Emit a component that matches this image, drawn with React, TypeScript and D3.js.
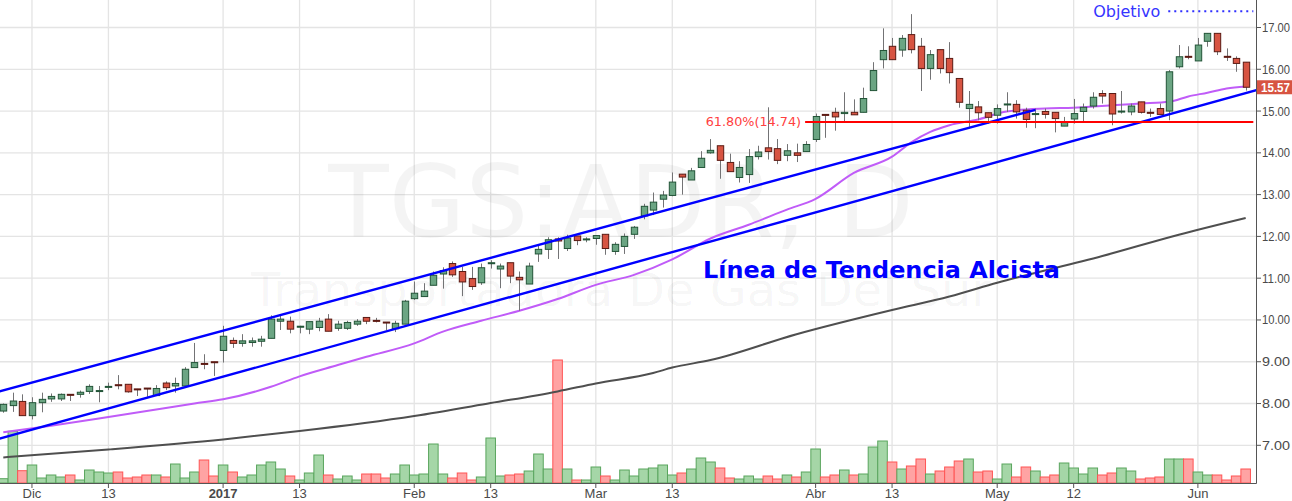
import React from 'react';
import * as d3 from 'd3';

const W = 1292;
const H = 501;
const PLOT_RIGHT = 1256;
const PLOT_BOTTOM = 483;

const opens = [7.82,7.95,8.05,7.71,8.02,8.11,8.11,8.22,8.22,8.29,8.30,8.39,8.45,8.46,8.35,8.37,8.19,8.49,8.42,8.42,
  8.86,8.96,9.00,9.27,9.51,9.44,9.46,9.49,9.56,9.97,9.97,9.85,9.78,9.82,10.02,9.80,9.80,9.90,10.06,9.99,
  9.95,9.79,9.90,10.51,10.56,10.83,11.10,11.35,11.16,10.99,10.89,11.37,11.22,11.37,11.02,10.86,11.58,11.69,11.94,11.71,
  12.01,11.93,11.95,12.05,11.64,11.76,12.05,12.49,12.63,12.89,12.98,13.49,13.35,13.65,14.00,14.17,13.77,13.41,13.48,13.91,
  14.12,14.10,13.94,14.00,14.03,14.32,14.92,14.97,14.94,14.97,14.97,15.49,16.23,16.55,16.46,16.83,16.55,16.02,16.47,16.26,
  15.78,15.06,15.10,14.96,14.90,15.16,15.16,15.02,14.93,14.99,14.97,14.64,14.81,14.99,15.12,15.42,15.42,14.98,14.98,15.22,
  14.97,15.06,15.00,16.06,16.31,16.20,16.67,16.86,16.31,16.26,16.17];
const highs = [8.00,8.26,8.22,8.15,8.26,8.24,8.24,8.22,8.31,8.46,8.42,8.50,8.68,8.46,8.35,8.37,8.44,8.53,8.62,8.87,
  9.45,9.18,9.00,9.86,9.58,9.66,9.58,9.62,10.11,10.11,10.08,9.86,9.96,10.05,10.14,9.98,9.98,10.02,10.06,10.05,
  9.95,9.98,10.48,10.92,10.88,11.16,11.26,11.40,11.27,11.27,11.35,11.43,11.35,11.37,11.16,11.37,11.79,11.98,11.98,12.04,
  12.01,11.98,12.02,12.05,11.86,12.07,12.25,12.78,13.05,13.09,13.53,13.49,13.64,14.04,14.33,14.17,13.98,13.80,14.09,14.17,
  15.09,14.33,14.21,14.22,14.28,14.94,14.92,15.08,15.45,15.28,15.56,16.17,16.98,16.75,16.82,17.32,16.75,16.46,16.47,16.65,
  15.78,15.48,15.24,14.96,15.16,15.45,15.26,15.08,15.06,15.06,14.97,14.86,15.29,15.18,15.45,15.50,15.42,15.48,15.18,15.22,
  15.06,15.18,15.98,16.58,16.55,16.75,16.86,16.86,16.50,16.31,16.17];
const lows = [7.78,7.80,7.71,7.62,7.79,8.04,8.06,8.06,8.14,8.23,8.03,8.32,8.34,8.26,8.18,8.16,8.19,8.32,8.26,8.42,
  8.86,8.82,8.66,8.98,9.33,9.36,9.36,9.36,9.56,9.76,9.68,9.68,9.66,9.73,9.73,9.74,9.76,9.86,9.90,9.94,
  9.76,9.71,9.90,10.48,10.56,10.83,10.75,11.03,10.57,10.72,10.84,11.23,10.76,10.88,10.22,10.86,11.39,11.46,11.46,11.65,
  11.79,11.86,11.80,11.56,11.56,11.58,11.94,12.41,12.51,12.69,12.96,13.00,13.35,13.65,13.98,13.38,13.55,13.29,13.28,13.84,
  13.84,13.73,13.80,13.78,14.03,14.26,14.36,14.53,14.73,14.91,14.97,15.49,16.02,16.23,16.30,16.38,15.48,15.75,15.90,15.66,
  15.08,14.62,14.78,14.70,14.70,14.98,14.82,14.60,14.59,14.82,14.49,14.64,14.70,14.76,15.06,15.18,14.66,14.94,14.90,14.94,
  14.86,14.92,14.78,16.02,16.24,16.20,16.54,16.34,16.20,15.94,15.49];
const closes = [7.98,8.06,7.71,8.02,8.10,8.17,8.22,8.21,8.27,8.41,8.31,8.41,8.43,8.28,8.33,8.36,8.36,8.38,8.48,8.82,
  8.98,8.95,8.99,9.61,9.44,9.50,9.50,9.54,10.02,10.02,9.78,9.85,9.96,9.97,9.73,9.90,9.94,9.97,9.97,9.98,
  9.94,9.92,10.45,10.64,10.69,11.07,11.18,11.08,10.91,10.80,11.25,11.37,11.29,11.05,10.96,11.29,11.69,11.92,11.89,11.96,
  11.90,11.94,12.02,11.71,11.81,12.00,12.22,12.72,12.82,12.99,13.30,13.42,13.57,13.87,14.06,13.82,13.55,13.65,13.91,14.02,
  14.03,13.82,14.05,13.94,14.20,14.87,14.90,14.86,14.97,14.91,15.30,15.97,16.45,16.23,16.74,16.47,16.02,16.35,16.02,15.92,
  15.21,15.16,14.96,14.85,15.06,15.17,14.98,14.80,14.94,14.92,14.82,14.73,14.94,15.09,15.33,15.36,14.93,15.00,15.12,14.97,
  14.96,14.92,15.94,16.30,16.30,16.58,16.86,16.42,16.30,16.14,15.57];
const volumes = [4.3,51.7,12.3,18,5,8,6,8,3,13,11,10,11,5,6,8,8,6,19,5,
  11,23,7,18,11,6,8,18,21,14,7,3,10,28,8,4,7,3,9,9,
  5,9,18,8,9,39,9,5,10,3,6,45,7,8,9,12,29,14,123,14,
  3,3,16,7,3,13,7,14,15,18,8,10,14,25,21,15,5,4,7,4,
  7,4,8,6,11,34,6,8,13,8,9,36,42,21,14,17,24,9,12,16,
  22,24,11,12,4,19,6,16,12,6,8,20,15,9,15,8,10,15,12,4,
  5,6,24,24,24,11,8,8,3,7,14];

const ma50Idx = [0,5,10,15,20,23,28,31,35,38,43,46,50,54,58,62,66,70,74,78,82,85,89,93,95,97,99,102,105,109,112,116,119,122,124,126,128,130];
const ma50Val = [7.31,7.47,7.64,7.82,8.00,8.10,8.40,8.65,8.92,9.12,9.44,9.72,9.98,10.22,10.50,10.84,11.08,11.45,11.95,12.28,12.64,12.90,13.52,13.91,14.25,14.50,14.66,14.80,14.99,15.06,15.08,15.14,15.18,15.22,15.35,15.44,15.54,15.59];
const ma200Idx = [0,11,23,31,43,51,58,62,68,70,74,83,93,99,104,115,123,130];
const ma200Val = [6.71,6.90,7.14,7.34,7.70,8.01,8.29,8.48,8.73,8.86,9.04,9.66,10.24,10.56,10.89,11.53,12.04,12.44];

const upperTrendIdx = [-1, 108];
const upperTrendVal = [8.254, 15.03];
const lowerTrendIdx = [-1, 132];
const lowerTrendVal = [7.119, 15.559];

const fibIdx = [83.9, 130.8];
const fibLevel = 14.74;
const targetIdx = [121.9, 130.8];
const targetLevel = 17.39;
const lastPrice = 15.57;

const tickIdx = [3, 11, 23, 31, 43, 51, 62, 70, 85, 93, 104, 112, 125];
const tickLabels = ['Dic', '13', '2017', '13', 'Feb', '13', 'Mar', '13', 'Abr', '13', 'May', '12', 'Jun'];
const priceTicks = [7, 8, 9, 10, 11, 12, 13, 14, 15, 16, 17];

export default function App() {
  const x = d3.scaleLinear().domain([-0.345, 131.08]).range([0, PLOT_RIGHT]);
  const y = d3.scaleLinear().domain([7, 17]).range([445.3, 27.5]);
  const yv = d3.scaleLinear().domain([0, 123]).range([PLOT_BOTTOM, 360]);
  const step = x(1) - x(0);
  const bodyW = 6.4;

  const line = d3.line<[number, number]>().x(d => x(d[0])).y(d => y(d[1])).curve(d3.curveMonotoneX);
  const straight = d3.line<[number, number]>().x(d => x(d[0])).y(d => y(d[1]));

  const ma50Pts = ma50Idx.map((v, i) => [v, ma50Val[i]] as [number, number]);
  const ma200Pts = ma200Idx.map((v, i) => [v, ma200Val[i]] as [number, number]);
  const upPts = upperTrendIdx.map((v, i) => [v, upperTrendVal[i]] as [number, number]);
  const loPts = lowerTrendIdx.map((v, i) => [v, lowerTrendVal[i]] as [number, number]);

  const labelFont = '"Liberation Sans", Arial, sans-serif';
  const verd = '"DejaVu Sans", Verdana, sans-serif';

  return (
    <svg width={W} height={H} style={{ position: 'absolute', left: 0, top: 0, background: '#fff' }}>
      <defs>
        <clipPath id="plot"><rect x={0} y={0} width={PLOT_RIGHT} height={PLOT_BOTTOM} /></clipPath>
      </defs>
      <rect x={0} y={0} width={W} height={H} fill="#fff" />
      {/* grid */}
      <g stroke="#e4e4e4" strokeWidth={1.3}>
        {priceTicks.map(p => <line key={'h' + p} x1={0} x2={PLOT_RIGHT} y1={y(p)} y2={y(p)} />)}
        {tickIdx.map(t => <line key={'v' + t} x1={x(t)} x2={x(t)} y1={0} y2={PLOT_BOTTOM} />)}
      </g>
      {/* watermark */}
      <g fill="#000" fillOpacity={0.045} fontFamily={verd} textAnchor="middle">
        <text x={621} y={237} fontSize={99}>TGS:ADR, D</text>
        <text x={621} y={306} fontSize={46} textLength={740} lengthAdjust="spacingAndGlyphs">Transportadora De Gas Del Sur</text>
      </g>
      <g clipPath="url(#plot)">
        {/* volume */}
        {volumes.map((v, i) => {
          const up = closes[i] >= opens[i];
          return (
            <rect key={'vol' + i} x={x(i) - step / 2} y={yv(v)} width={step} height={PLOT_BOTTOM - yv(v)}
              fill={up ? '#a5d6a7' : '#ffa3a3'} stroke={up ? '#5aa55e' : '#f55'} strokeWidth={1} />
          );
        })}
        {/* moving averages */}
        <path d={line(ma200Pts) || ''} fill="none" stroke="#4f4f4f" strokeWidth={2} />
        <path d={line(ma50Pts) || ''} fill="none" stroke="#c05cf8" strokeWidth={2} />
        {/* candles */}
        {opens.map((o, i) => {
          const c = closes[i];
          const up = c >= o;
          const top = y(Math.max(o, c));
          const bh = Math.max(1, y(Math.min(o, c)) - top);
          const cx = Math.round(x(i)) + 0.5;
          return (
            <g key={'c' + i}>
              <line x1={cx} x2={cx} y1={y(highs[i])} y2={y(lows[i])} stroke="#737375" strokeWidth={1} />
              <rect x={cx - bodyW / 2} y={top} width={bodyW} height={bh}
                fill={up ? '#6ba583' : '#d75442'} stroke={up ? '#225437' : '#5b1a13'} strokeWidth={1} />
            </g>
          );
        })}
        {/* trend lines */}
        <path d={straight(upPts) || ''} stroke="#0000ff" strokeWidth={2.4} fill="none" />
        <path d={straight(loPts) || ''} stroke="#0000ff" strokeWidth={2.4} fill="none" />
        {/* fib level */}
        <line x1={x(fibIdx[0])} x2={x(fibIdx[1])} y1={y(fibLevel)} y2={y(fibLevel)} stroke="#ff0000" strokeWidth={2} />
        {/* target */}
        <line x1={x(targetIdx[0])} x2={x(targetIdx[1])} y1={y(targetLevel)} y2={y(targetLevel)} stroke="#3030ff" strokeWidth={2} strokeDasharray="2 4" />
      </g>
      <text x={x(fibIdx[0]) - 4} y={y(fibLevel) + 4.5} textAnchor="end" fontFamily={verd} fontSize={12.8} fill="#ff4040">61.80%(14.74)</text>
      <text x={x(targetIdx[0]) - 8} y={y(targetLevel) + 6} textAnchor="end" fontFamily={verd} fontSize={16} fill="#3535ff">Objetivo</text>
      <text x={703} y={277.5} fontFamily={verd} fontWeight="bold" fontSize={23.7} fill="#0000ff" textLength={357} lengthAdjust="spacingAndGlyphs">Línea de Tendencia Alcista</text>
      {/* axes */}
      <line x1={PLOT_RIGHT + 0.5} x2={PLOT_RIGHT + 0.5} y1={0} y2={PLOT_BOTTOM + 0.5} stroke="#555" strokeWidth={1} />
      <line x1={0} x2={PLOT_RIGHT + 0.5} y1={PLOT_BOTTOM + 0.5} y2={PLOT_BOTTOM + 0.5} stroke="#555" strokeWidth={1} />
      <g fontFamily={labelFont} fontSize={12.5} fill="#4a4a4a">
        {priceTicks.map(p => (
          <g key={'pt' + p}>
            <line x1={PLOT_RIGHT + 1} x2={PLOT_RIGHT + 5} y1={y(p)} y2={y(p)} stroke="#555" />
            <text x={PLOT_RIGHT + 6} y={y(p) + 4.5} textLength={28} lengthAdjust="spacingAndGlyphs">{p.toFixed(2)}</text>
          </g>
        ))}
        {tickIdx.map((t, i) => (
          <g key={'xt' + i}>
            <line x1={x(t)} x2={x(t)} y1={PLOT_BOTTOM + 1} y2={PLOT_BOTTOM + 5} stroke="#555" />
            <text x={x(t)} y={498} fontSize={13} textAnchor="middle" fontWeight={tickLabels[i] === '2017' ? 'bold' : 'normal'}>{tickLabels[i]}</text>
          </g>
        ))}
      </g>
      {/* last price label */}
      <rect x={PLOT_RIGHT + 1} y={y(lastPrice) - 7} width={W - PLOT_RIGHT - 1} height={14} fill="#d75442" />
      <text x={PLOT_RIGHT + 5} y={y(lastPrice) + 4.5} fontFamily={labelFont} fontSize={12.5} fontWeight="bold" fill="#fff" textLength={29} lengthAdjust="spacingAndGlyphs">{lastPrice.toFixed(2)}</text>
    </svg>
  );
}
